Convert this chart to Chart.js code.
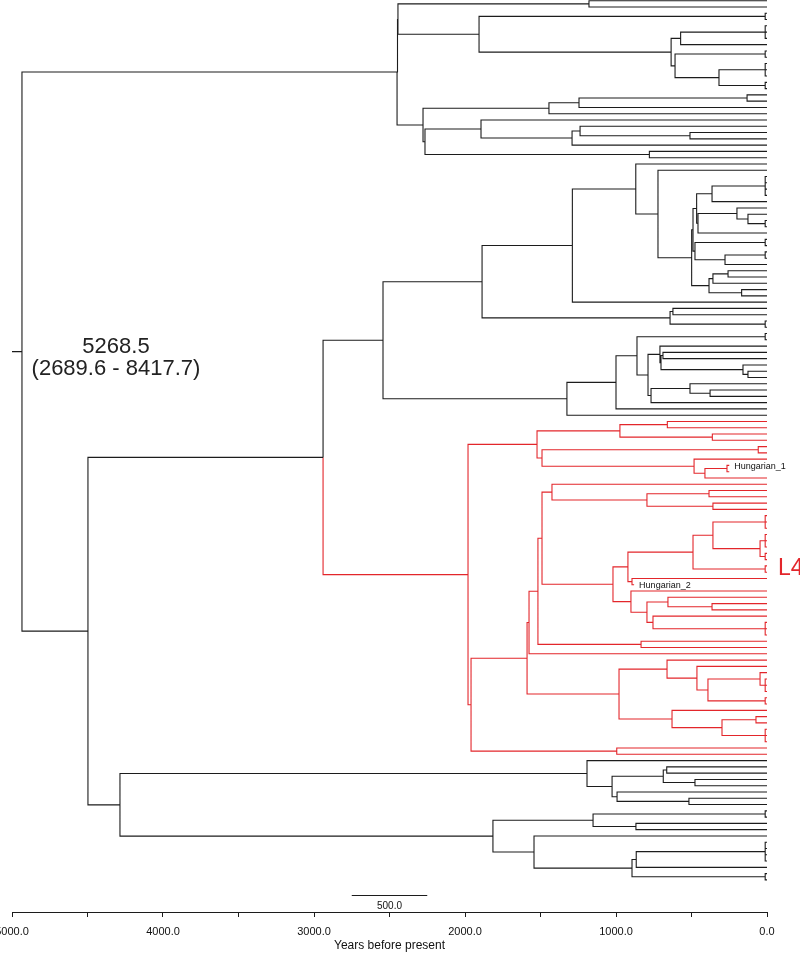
<!DOCTYPE html>
<html><head><meta charset="utf-8">
<script src="https://cdn.jsdelivr.net/npm/chart.js@4.4.1/dist/chart.umd.min.js"></script>
<style>html,body{margin:0;padding:0;background:#fff;}#wrap{width:800px;height:955px;position:relative;}</style>
</head><body><div id="wrap"><canvas id="c" width="800" height="955"></canvas></div>
<script>
// ---- data (ages in years before present; "t" = present-day tip, "Name:age" = dated tip) ----
const cladeTop = "(((t,t)1179,((t,t)12,(((t,t,t)12,t)572,((t,t)12,((t,t,t)12,(t,t)12)318)609)635)1907)2444,((((t,t)132,t)1245,t)1444,((t,((t,(t,t)510)1238,t)1291)1894,(t,t)779)2265)2278)2450";
const cladeMid1 = "(((t,(t,(((((t,t,t,t)12,t)364,((t,(t,(t,t)12)126)199,t)457)466,((t,t)12,((t,t)12,t)278)477)490,(((t,t)258,t)358,(t,t)168)384)499)722)869,t)1289,((t,t)623,(t,t)12)642)1887";
const cladeMid2 = "((((t,t)12,((t,((t,t)689,(t,(t,t)126)159)702)709,((t,(t,t)377)510,t)768)788)861,t)1000,t)1325";
const midAge = 2543;
const cladeL4a = "(((t,t)660,(t,t)362)974,((t,t)58,(t,((Hungarian_1:250,:250)265,t)411)483)1490)1523";
const cladeL4b = "((((((t,((t,t)384,(t,t)358)795)1424,(((((t,t,t)12,((t,t,t)12,(t,t)12)46)358,(t,t)12)490,(t,Hungarian_2:880)894)921,(t,((t,(t,t)364)656,(t,(t,t,t)12)755)795)901)1020)1490,(t,t)834)1517,t)1576,((t,(t,((t,(t,t,t)12)46,(t,t)12)391)464)662,(t,((t,t)73,(t,t,t)12)298)629)980)1589,(t,t)995)1960";
const l4Age = 1980;
const cladeBottom = "((t,(((t,t)664,(t,t)477)687,(t,(t,t)517)993)1026)1192,(((t,t)12,(t,t)868)1152,(t,(((t,t,t,t)12,t)866,(t,t)12)894)1543)1815)4285";
const backboneAges = [4934, 4497, 2940];   // root, lower backbone, L4+middle
const stemStart = 5000;
const xTickValues = [5000,4500,4000,3500,3000,2500,2000,1500,1000,500,0];
const xTickLabels = ['5000.0','','4000.0','','3000.0','','2000.0','','1000.0','','0.0'];
const rootLabel = ['5268.5','(2689.6 - 8417.7)'];
const cladeLabel = 'L4';
const scaleBarYears = [2750, 2250];
const scaleBarLabel = '500.0';
const axisTitle = 'Years before present';

// ---- parse ----
function parseTree(str){
  let i=0;
  function num(){let s='';while(i<str.length&&/[0-9.]/.test(str[i]))s+=str[i++];return parseFloat(s);}
  function node(){
    if(str[i]==='('){
      i++;const ch=[];
      while(true){ch.push(node());if(str[i]===','){i++;continue;}if(str[i]===')'){i++;break;}throw new Error('parse '+i);}
      return {children:ch,age:num()};
    }
    let name='';while(i<str.length&&/[A-Za-z0-9_]/.test(str[i]))name+=str[i++];
    let age=0;if(str[i]===':'){i++;age=num();}
    return {children:[],age,name};
  }
  return node();
}
function mark(n,red){n.red=red;n.children.forEach(c=>mark(c,red));}
const T=parseTree(cladeTop);
const M={children:[parseTree(cladeMid1),parseTree(cladeMid2)],age:midAge};
const L4={children:[parseTree(cladeL4a),parseTree(cladeL4b)],age:l4Age};
const B=parseTree(cladeBottom);
[T,M,B].forEach(n=>mark(n,false));mark(L4,true);
const root={age:backboneAges[0],red:false,children:[T,{age:backboneAges[1],red:false,children:[{age:backboneAges[2],red:false,children:[M,L4]},B]}]};
let tipIdx=0;const tips=[];
function layout(n){
  if(!n.children.length){n.y=tipIdx++;tips.push(n);return;}
  n.children.forEach(layout);
  n.y=(n.children[0].y+n.children[n.children.length-1].y)/2;
}
layout(root);
const nTips=tipIdx;
const blackPts=[],redPts=[];
blackPts.push({x:stemStart,y:root.y},{x:root.age,y:root.y},{x:root.age,y:null});
function segs(n){
  n.children.forEach(c=>{
    const arr=c.red?redPts:blackPts;
    arr.push({x:n.age,y:n.y},{x:n.age,y:c.y},{x:c.age,y:c.y},{x:c.age,y:null});
    segs(c);
  });
}
segs(root);
const BLACK='#1c1c1c', RED='#e3262b', FONT='"Liberation Sans", Arial, sans-serif';

const textPlugin={id:'treeText',afterDatasetsDraw(chart){
  const ctx=chart.ctx,xs=chart.scales.x,ys=chart.scales.y,ca=chart.chartArea;
  ctx.save();
  // root label
  ctx.fillStyle='#222';ctx.textAlign='center';ctx.textBaseline='middle';
  ctx.font='22px '+FONT;
  const rx=xs.getPixelForValue(root.age)+94, ry=ys.getPixelForValue(root.y);
  ctx.fillText(rootLabel[0],rx,ry-5);
  ctx.fillText(rootLabel[1],rx,ry+17);
  // clade label
  ctx.fillStyle=RED;ctx.textAlign='left';ctx.font='23px '+FONT;
  ctx.fillText(cladeLabel,xs.getPixelForValue(0)+11,ys.getPixelForValue(L4.y)-6);
  // tip names
  ctx.fillStyle='#111';ctx.font='9px '+FONT;
  tips.forEach(t=>{ if(t.name&&t.name!=='t'){ctx.fillText(t.name,xs.getPixelForValue(t.age)+5,ys.getPixelForValue(t.y)+1);} });
  // scale bar
  const by=ca.bottom-17;
  ctx.strokeStyle=BLACK;ctx.lineWidth=1;ctx.beginPath();
  ctx.moveTo(xs.getPixelForValue(scaleBarYears[0]),by+0.5);ctx.lineTo(xs.getPixelForValue(scaleBarYears[1]),by+0.5);ctx.stroke();
  ctx.fillStyle='#111';ctx.textAlign='center';ctx.font='10px '+FONT;
  ctx.fillText(scaleBarLabel,xs.getPixelForValue((scaleBarYears[0]+scaleBarYears[1])/2),by+11);
  ctx.restore();
}};

new Chart(document.getElementById('c'),{
  type:'line',
  data:{datasets:[
    {data:blackPts,borderColor:BLACK,borderWidth:1.1,pointRadius:0,spanGaps:false,tension:0,clip:6},
    {data:redPts,borderColor:RED,borderWidth:1.1,pointRadius:0,spanGaps:false,tension:0,clip:6}
  ]},
  options:{
    responsive:false,animation:false,devicePixelRatio:1,
    layout:{padding:{left:12,right:33,top:0,bottom:0}},
    plugins:{legend:{display:false},tooltip:{enabled:false}},
    scales:{
      x:{type:'linear',reverse:true,min:0,max:5000,
        afterBuildTicks:s=>{s.ticks=xTickValues.map(v=>({value:v}));},
        afterFit:s=>{s.paddingLeft=0;s.paddingRight=0;s.height=43;},
        ticks:{autoSkip:false,maxRotation:0,padding:8,color:'#111',font:{family:FONT,size:11},
          callback:v=>{const k=xTickValues.indexOf(v);return k>=0?xTickLabels[k]:'';}},
        grid:{display:true,drawOnChartArea:false,drawTicks:true,tickLength:5,color:BLACK},
        border:{display:true,color:BLACK,width:1},
        title:{display:true,text:axisTitle,color:'#111',font:{family:FONT,size:12},padding:{top:3,bottom:2}}
      },
      y:{type:'linear',display:false,reverse:true,min:-0.11,max:nTips-1+5.11}
    }
  },
  plugins:[textPlugin]
});
</script></body></html>
